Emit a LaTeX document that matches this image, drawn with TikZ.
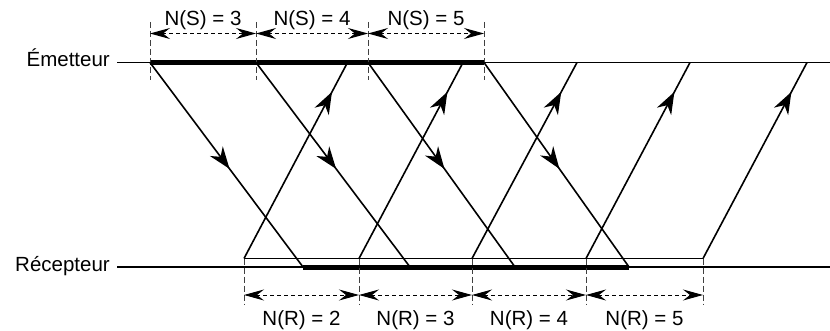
\documentclass[tikz,border=0pt]{standalone}
\usepackage{fontspec}
\setmainfont{Liberation Sans}
\usetikzlibrary{arrows.meta, decorations.markings}

\begin{document}
\begin{tikzpicture}[
    x=1pt, y=-1pt,
    lbl/.style={font=\fontsize{20.5}{24}\selectfont, inner sep=0pt},
    axis/.style={line width=1.6pt},
    busy/.style={line width=5pt},
    guide/.style={line width=1pt, black!75, dash pattern=on 6pt off 3pt},
    dimarr/.style={{Stealth[length=20pt,width=11pt,inset=7pt]}-{Stealth[length=20pt,width=11pt,inset=7pt]}, line width=1pt, dash pattern=on 4pt off 3pt},
    frm/.style={line width=1.6pt, postaction={decorate}, decoration={markings, mark=at position 0.52 with {\arrow{Stealth[length=22pt,width=16pt,inset=7pt]}}}},
    ack/.style={line width=1.6pt, postaction={decorate}, decoration={markings, mark=at position 0.85 with {\arrow{Stealth[length=22pt,width=16pt,inset=7pt]}}}},
]
\useasboundingbox (0,0) rectangle (830,331);

% time lines
\node [lbl, anchor=base east] (emet) at (110,67) {Émetteur};
\node [lbl, anchor=base east] (recep) at (110,271.5) {Récepteur};
\coordinate (e0) at (117,62.5);
\coordinate (e1) at (830,62.5);
\coordinate (r0) at (117,267);
\coordinate (r1) at (830,267);

% sending instants
\coordinate (s1) at (150,62.5);
\coordinate (s2) at (256,62.5);
\coordinate (s3) at (368,62.5);
\coordinate (s4) at (484,62.5);

% frame arrivals
\coordinate (d1) at (303,267);
\coordinate (d2) at (410,267);
\coordinate (d3) at (515,267);
\coordinate (d4) at (629,267);

% ack departures
\coordinate (a1) at (244,258.5);
\coordinate (a2) at (359,258.5);
\coordinate (a3) at (472,258.5);
\coordinate (a4) at (586,258.5);
\coordinate (a5) at (703,258.5);

% ack arrivals
\coordinate (t1) at (347.5,62.5);
\coordinate (t2) at (463,62.5);
\coordinate (t3) at (577,62.5);
\coordinate (t4) at (690,62.5);
\coordinate (t5) at (807,62.5);

\draw [axis] (e0) -- (e1);
\draw [axis] (r0) -- (r1);
\draw [axis] (a1) -- (a5);
\draw [busy] (s1) -- (s4);
\draw [busy] (d1) -- (d4);

% guides
\draw [guide] (150,22) -- (150,80);
\draw [guide] (256,22) -- (256,80);
\draw [guide] (368,22) -- (368,80);
\draw [guide] (484,22) -- (484,80);
\draw [guide] (a1) -- (244,305);
\draw [guide] (a2) -- (359,305);
\draw [guide] (a3) -- (472,305);
\draw [guide] (a4) -- (586,305);
\draw [guide] (a5) -- (703,305);

% frames and acks
\draw [frm] (s1) -- (d1);
\draw [frm] (s2) -- (d2);
\draw [frm] (s3) -- (d3);
\draw [frm] (s4) -- (d4);
\draw [ack] (a1) -- (t1);
\draw [ack] (a2) -- (t2);
\draw [ack] (a3) -- (t3);
\draw [ack] (a4) -- (t4);
\draw [ack] (a5) -- (t5);

% windows
\draw [dimarr] (150,33.5) -- (256,33.5);
\draw [dimarr] (256,33.5) -- (368,33.5);
\draw [dimarr] (368,33.5) -- (484,33.5);
\node [lbl, anchor=base] (ns3) at (203,25.3) {N(S) = 3};
\node [lbl, anchor=base] (ns4) at (312,25.3) {N(S) = 4};
\node [lbl, anchor=base] (ns5) at (426,25.3) {N(S) = 5};

\draw [dimarr] (244,295) -- (359,295);
\draw [dimarr] (359,295) -- (472,295);
\draw [dimarr] (472,295) -- (586,295);
\draw [dimarr] (586,295) -- (703,295);
\node [lbl, anchor=base] (nr2) at (301.5,325) {N(R) = 2};
\node [lbl, anchor=base] (nr3) at (415.5,325) {N(R) = 3};
\node [lbl, anchor=base] (nr4) at (529,325) {N(R) = 4};
\node [lbl, anchor=base] (nr5) at (644.5,325) {N(R) = 5};

\end{tikzpicture}
\end{document}
